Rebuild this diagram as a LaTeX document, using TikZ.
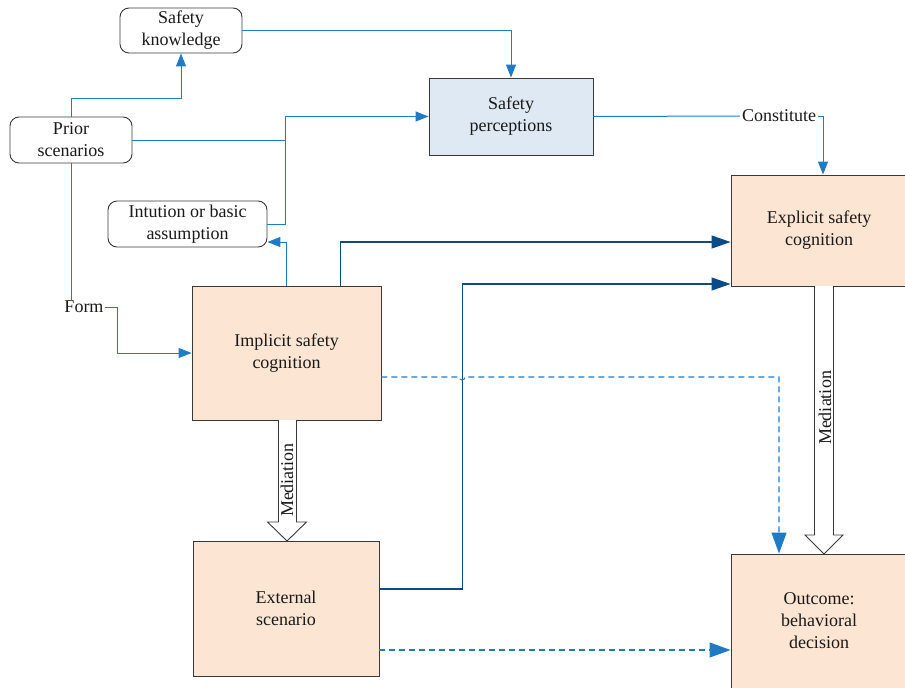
\documentclass[tikz,border=0pt]{standalone}
\usepackage{fontspec}
\setmainfont{Liberation Serif}
\usetikzlibrary{arrows.meta}
\definecolor{lb}{HTML}{1F7BC6}
\definecolor{db}{HTML}{0B4C86}
\definecolor{peach}{HTML}{FDE5D3}
\definecolor{pblue}{HTML}{DEE9F4}
\definecolor{edge}{HTML}{383838}
\begin{document}
\begin{tikzpicture}[x=1pt,y=-1pt,
  every node/.style={font=\fontsize{18}{22}\selectfont, text=black!90, align=center},
  rbox/.style={draw=edge, line width=0.9pt, rounded corners=9pt, inner sep=0pt},
  sbox/.style={draw=edge, line width=0.9pt, inner sep=0pt},
  la/.style={lb, line width=1pt, -{Triangle[length=13pt,width=10pt]}},
  ln/.style={lb, line width=1pt},
  da/.style={db, line width=1.1pt, -{Triangle[length=19pt,width=13pt]}},
  dsh/.style={lb, line width=1.1pt, dash pattern=on 6pt off 4pt, -{Triangle[length=21pt,width=15pt]}},
  fat/.style={draw=edge, fill=white, line width=0.9pt, line join=miter}]
\useasboundingbox (0,0) rectangle (905,688);

% nodes
\node[rbox, minimum width=122, minimum height=45] (sk) at (181,30.5) {Safety\\knowledge};
\node[rbox, minimum width=122, minimum height=46] (ps) at (71,140) {Prior\\scenarios};
\node[rbox, minimum width=159, minimum height=46] (ia) at (187.5,224) {Intution or basic\\assumption};
\node[sbox, fill=pblue, minimum width=164, minimum height=77] (sp) at (511,116.5) {Safety\\perceptions};
\node[sbox, fill=peach, minimum width=176, minimum height=111] (ex) at (819,230.5) {Explicit safety\\cognition};
\node[sbox, fill=peach, minimum width=189, minimum height=134] (im) at (286.5,353) {Implicit safety\\cognition};
\node[sbox, fill=peach, minimum width=186, minimum height=135] (es) at (286,608.5) {External\\scenario};
\node[sbox, fill=peach, minimum width=176, minimum height=134] (oc) at (819,621) {Outcome:\\behavioral\\decision};

\node[inner sep=1pt] (form) at (84,307) {Form};
\node[inner sep=2pt] (con) at (779,116) {Constitute};
\coordinate (j1) at (285,140);

% light blue connectors
\draw[la] (sk.east) -| (sp.north);
\draw[la] (ps.north) -- ++(0,-18) -| (sk.south);
\draw[la] (ia.east) -- ++(18,0) |- (sp.west);
\draw[ln] (ps.east) -- (j1);
\draw[la] ([xshift=95pt]im.north west) |- ([yshift=-18pt]ia.east);
\draw[ln] (ps.south) -- (ps.south |- form.north);
\draw[la] (form.east) -- ++(13,0) |- (im.west);
\draw[ln] (sp.east) -- (con.west);
\draw[la] (con.east) -| ([xshift=4pt]ex.north);

% dark blue connectors
\draw[da] ([xshift=149pt]im.north west) |- ([yshift=-11.5pt]ex.west);
\draw[da] ([yshift=19.5pt]es.east) -- ++(83,0) |- ([yshift=-53.5pt]ex.west);

% dashed connectors
\draw[dsh] ([yshift=-24pt]im.east) -- (459,377) arc[start angle=180,end angle=0,radius=3] -| ([xshift=-40pt]oc.north);
\draw[dsh] ([yshift=-41.5pt]es.east) -- ([yshift=-29pt]oc.west);

% mediation arrows
\draw[fat] (278.5,420) -- (278.5,522) -- (267.5,522) -- (287,541) -- (306.5,522) -- (296.5,522) -- (296.5,420);
\node[rotate=90, inner sep=0pt] (m1) at (287,480) {Mediation};
\draw[fat] (814.5,286) -- (814.5,535) -- (805,535) -- (824,554) -- (843,535) -- (833.5,535) -- (833.5,286);
\node[rotate=90, inner sep=0pt] (m2) at (825,408) {Mediation};
\end{tikzpicture}
\end{document}
